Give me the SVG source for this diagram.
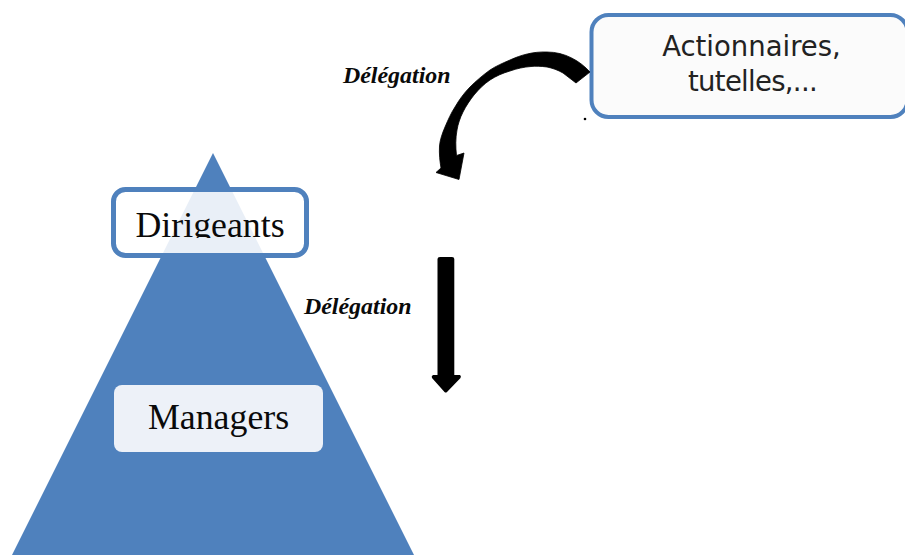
<svg xmlns="http://www.w3.org/2000/svg" width="905" height="555" viewBox="0 0 905 555">
<defs>
<style>
.serif{font-family:"Liberation Serif","Times New Roman",serif;fill:#0a0a0a}
.lab{font-size:35.800px}
.del{font-size:23.900px;font-weight:bold;font-style:italic}
.sans{font-family:"DejaVu Sans",sans-serif;font-size:27.500px;fill:#222;text-anchor:middle}
</style>
<clipPath id="cut"><rect x="120" y="195" width="180" height="43"/></clipPath>
<clipPath id="inner"><rect x="113.500" y="189.500" width="193" height="66" rx="12"/></clipPath>
</defs>
<rect width="905" height="555" fill="#fff"/>
<g id="pyramid"><polygon points="213,153 414,555 12,555" fill="#4f81bd"/></g>
<g id="dirigeants">
<rect x="113.500" y="189.500" width="193" height="66" rx="12" fill="#fff"/>
<polygon points="213,153 414,555 12,555" fill="#e9eff7" clip-path="url(#inner)"/>
<rect x="113.500" y="189.500" width="193" height="66" rx="12" fill="none" stroke="#4f81bd" stroke-width="5"/>
<text class="serif lab" x="135.500" y="236.500" clip-path="url(#cut)">Dirigeants</text>
</g>
<g id="managers">
<rect x="114" y="385" width="209" height="67" rx="8" fill="#edf1f8"/>
<text class="serif lab" x="148" y="429">Managers</text>
</g>
<g id="actionnaires">
<rect x="591.500" y="15" width="316" height="102" rx="17" fill="#fbfbfb" stroke="#4f81bd" stroke-width="4"/>
<text class="sans" x="751.500" y="56">Actionnaires,</text>
<text class="sans" x="752.500" y="91" letter-spacing="-0.700">tutelles,...</text>
</g>
<g id="connectors">
<path d="M590,72 C580,61 565,52 547,52 C533,51.500 521,55 510,60 C503,63 496,66 490,70 C483,75 476,81 470,87 C464,93 459,100 455,107 C451,113 448,120 445,127 C442,134 440,140 439.500,146 C439,154 440,162 441,168 L436,172.500 L459,179.500 L464,153 L456.500,155.500 C455.500,147 455.500,138 457,130 C458,124 460,118 463,112 C466,106 470,100 474,95 C479,89 484,84 490,80 C496,76 503,73 510,71 C517,68.500 524,67 531,66.500 C536,66 541,66.200 547,67 C552,68 558,70 563,73 L576,83 Z" fill="#000" stroke="#000" stroke-width="0.800" stroke-linejoin="round"/>
<path d="M440,257 L452,257 Q454.300,257 454.300,259 L454.300,375 L460,375 Q461.500,376 460.500,378 L447,392 Q445.700,393 444.500,392 L432,378 Q431,376 433,375 L437.500,375 L437.500,259 Q437.500,257 440,257 Z" fill="#000"/>
</g>
<text class="serif del" x="343" y="82.500">Délégation</text>
<text class="serif del" x="304" y="313.500">Délégation</text>
<circle cx="585" cy="119" r="1.300" fill="#000"/>
</svg>
